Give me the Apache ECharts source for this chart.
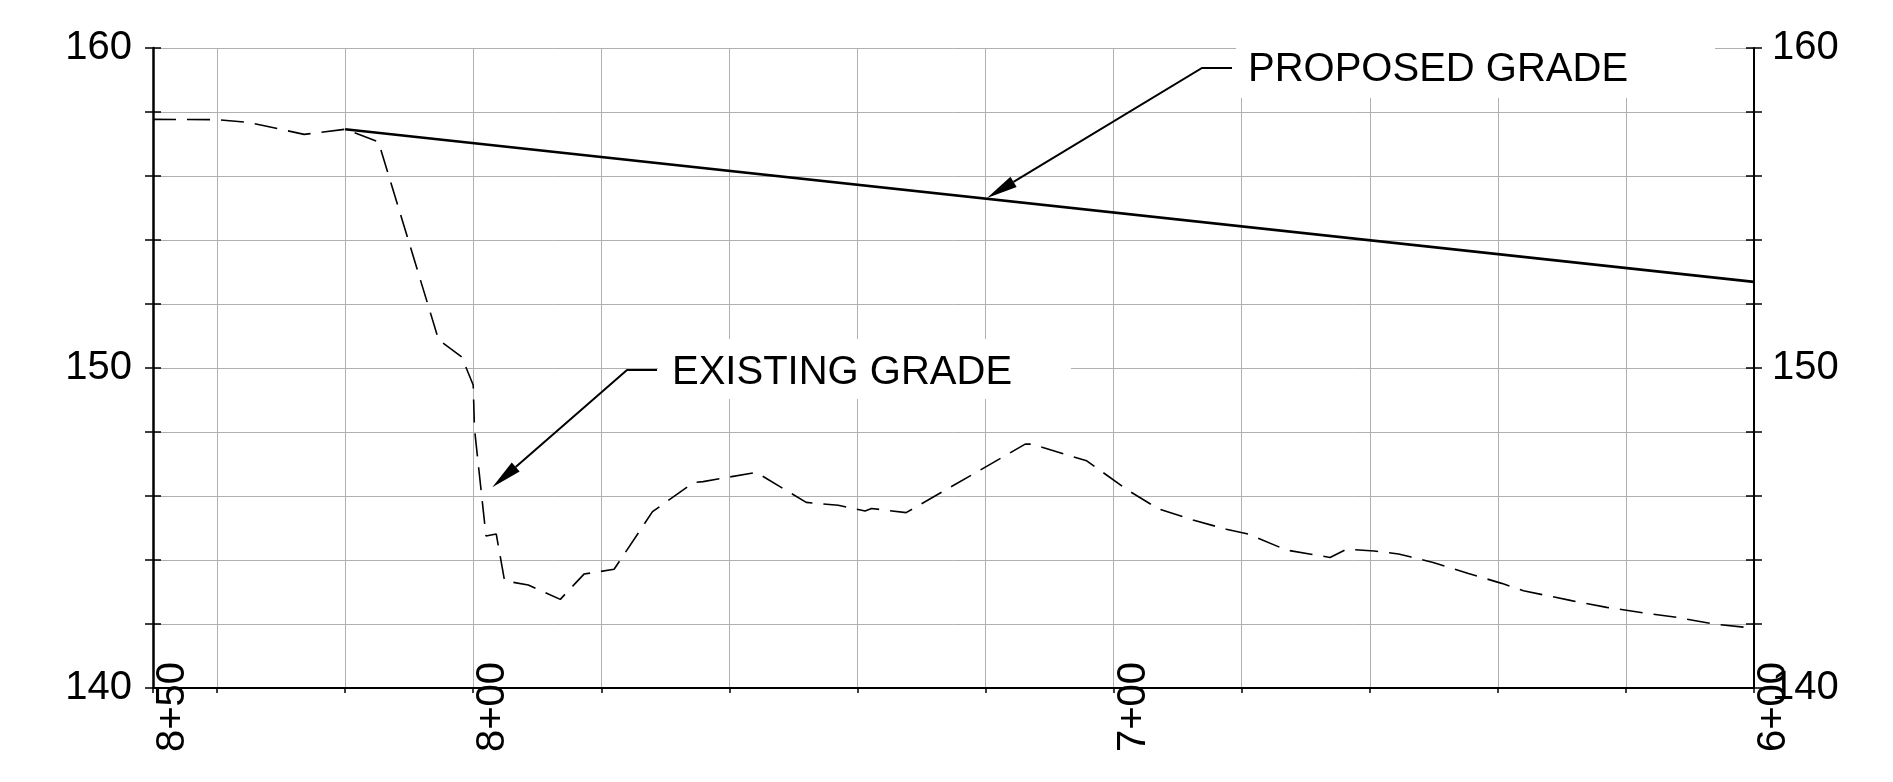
<!DOCTYPE html>
<html><head><meta charset="utf-8">
<script src="https://cdn.jsdelivr.net/npm/echarts@6/dist/echarts.min.js"></script>
<style>html,body{margin:0;padding:0;background:#fff}#c{width:1893px;height:782px}</style>
</head><body><div id="c"></div>
<script>
// ---- data ----
const stationMin = 600, stationMax = 850, stationStep = 20;
const elevMin = 140, elevMax = 160, elevStep = 2;
const stationLabels = [850, 800, 700, 600];
const elevLabels = [140, 150, 160];

const existingStations = [850, 840, 834.9, 826.4, 820, 814.8, 805.4, 801.8, 800, 799.8, 798.0, 796.4, 795.1, 791.4, 786.4, 782.7, 778.0, 772.0, 765.6, 764.1, 755.8, 748.0, 743.0, 738.8, 737.8, 732.4, 713.8, 712.8, 704.2, 697.7, 693.0, 687.6, 682.4, 679.0, 673.0, 666.2, 663.6, 659.3, 655.5, 653.7, 650.1, 644.6, 639.4, 636.0, 628.5, 623.0, 617.3, 611.8, 606.3, 600];
const existingElev = [157.77, 157.76, 157.67, 157.30, 157.46, 157.07, 150.88, 150.35, 149.47, 148.10, 144.75, 144.81, 143.35, 143.22, 142.77, 143.56, 143.71, 145.51, 146.42, 146.45, 146.74, 145.80, 145.71, 145.53, 145.61, 145.48, 147.62, 147.62, 147.10, 146.17, 145.60, 145.25, 144.96, 144.81, 144.31, 144.08, 144.34, 144.28, 144.19, 144.10, 143.92, 143.58, 143.27, 143.04, 142.73, 142.52, 142.35, 142.20, 142.00, 141.87];

const proposedStations = [820, 600];
const proposedElev = [157.46, 152.69];

const annotationTexts = ['PROPOSED GRADE', 'EXISTING GRADE'];

// ---- helpers ----
function fmtStation(v) {
  const h = Math.floor(v / 100), r = Math.round(v - h * 100);
  return h + '+' + (r < 10 ? '0' + r : r);
}
const FONT = '"Liberation Sans", Arial, sans-serif';
const GRID_COLOR = '#b0b0b0';

const chart = echarts.init(document.getElementById('c'));

function yAx(pos, withLabel, inside) {
  return {
    type: 'value', min: elevMin, max: elevMax, interval: elevStep, position: pos,
    axisLine: { show: withLabel, onZero: false, lineStyle: { color: '#000', width: pos === 'left' ? 2.5 : 2 } },
    axisTick: { show: true, inside: inside, length: 8, lineStyle: { color: '#000', width: 1.5 } },
    splitLine: { show: withLabel && pos === 'left', lineStyle: { color: GRID_COLOR, width: 1 } },
    axisLabel: {
      show: withLabel, margin: pos === 'left' ? 21 : 18, fontSize: 40, fontFamily: FONT, color: '#000',
      padding: [5, 0, 0, 0],
      formatter: v => elevLabels.indexOf(Math.round(v)) >= 0 && Math.abs(v - Math.round(v)) < 1e-6 ? String(Math.round(v)) : ''
    }
  };
}

const option = {
  animation: false,
  backgroundColor: '#fff',
  grid: { left: 153, right: 139, top: 48, bottom: 94, containLabel: false },
  xAxis: {
    type: 'value', min: stationMin, max: stationMax, interval: stationStep, inverse: true,
    axisLine: { show: true, onZero: false, lineStyle: { color: '#000', width: 2 } },
    axisTick: { show: true, length: 5, lineStyle: { color: '#000', width: 1.5 } },
    splitLine: { show: true, lineStyle: { color: GRID_COLOR, width: 1 } },
    axisLabel: {
      rotate: 90, margin: -26, align: 'right', verticalAlign: 'top',
      fontSize: 40, fontFamily: FONT, color: '#000',
      formatter: v => stationLabels.indexOf(Math.round(v)) >= 0 ? fmtStation(Math.round(v)) : ''
    }
  },
  yAxis: [yAx('left', true, false), yAx('left', false, true), yAx('right', true, false), yAx('right', false, true)],
  series: [
    {
      name: 'Existing', type: 'line', yAxisIndex: 0, showSymbol: false, symbol: 'none', z: 3,
      data: existingStations.map((s, i) => [s, existingElev[i]]),
      lineStyle: { color: '#000', width: 1.6, type: [23, 11] }
    },
    {
      name: 'Proposed', type: 'line', yAxisIndex: 0, showSymbol: false, symbol: 'none', z: 4,
      data: proposedStations.map((s, i) => [s, proposedElev[i]]),
      lineStyle: { color: '#000', width: 2.7 }
    }
  ]
};
chart.setOption(option);

// ---- annotations (leader lines, arrows, masked labels) ----
const annLayout = [
  { tip: [987, 198], elbow: [1202, 68], end: [1232, 68], box: [1236, 20, 479, 78], text: [1248, 70] },
  { tip: [492.3, 487.3], elbow: [627, 370], end: [657, 370], box: [658, 339, 413, 60], text: [672, 373] }
];
const graphics = [];
annLayout.forEach((a, i) => {
  const dx = a.elbow[0] - a.tip[0], dy = a.elbow[1] - a.tip[1];
  const len = Math.sqrt(dx * dx + dy * dy);
  const ux = dx / len, uy = dy / len, nx = -uy, ny = ux;
  const L = 31, W = 6;
  const bx = a.tip[0] + ux * L, by = a.tip[1] + uy * L;
  graphics.push({ type: 'rect', z: 10, shape: { x: a.box[0], y: a.box[1], width: a.box[2], height: a.box[3] }, style: { fill: '#fff' } });
  graphics.push({ type: 'polyline', z: 11, shape: { points: [[bx, by], a.elbow, a.end] }, style: { stroke: '#000', lineWidth: 2, fill: null } });
  graphics.push({ type: 'polygon', z: 11, shape: { points: [a.tip, [bx + nx * W, by + ny * W], [bx - nx * W, by - ny * W]] }, style: { fill: '#000' } });
  graphics.push({ type: 'text', z: 12, style: { text: annotationTexts[i], x: a.text[0], y: a.text[1], font: '40px ' + FONT, fill: '#000', align: 'left', verticalAlign: 'middle' } });
});
chart.setOption({ graphic: graphics });
</script>
</body></html>
